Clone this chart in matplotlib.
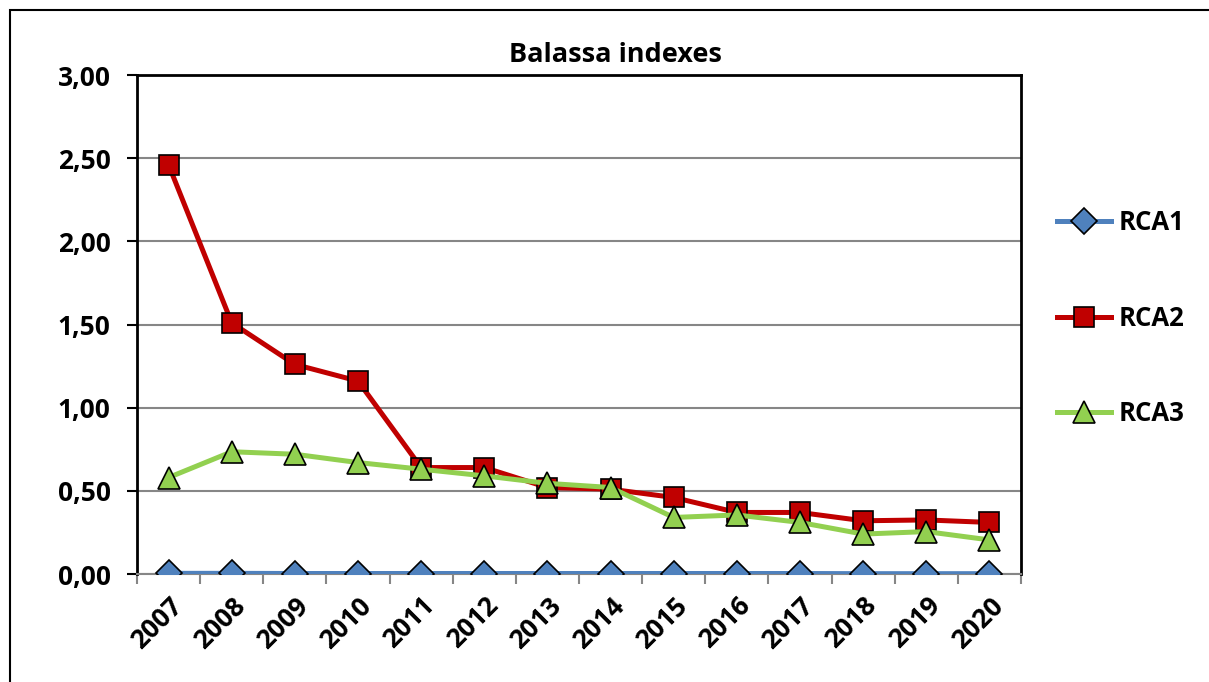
"""Balassa indexes line chart (Excel-style)."""

import matplotlib.pyplot as plt
from matplotlib.patches import Rectangle
from matplotlib.ticker import FuncFormatter

years = ["2007", "2008", "2009", "2010", "2011", "2012", "2013",
         "2014", "2015", "2016", "2017", "2018", "2019", "2020"]
rca1 = [0.004, 0.004, 0.003, 0.003, 0.003, 0.003, 0.003,
        0.003, 0.003, 0.003, 0.003, 0.002, 0.002, 0.002]
rca2 = [2.46, 1.51, 1.26, 1.16, 0.64, 0.64, 0.52,
        0.51, 0.46, 0.37, 0.37, 0.32, 0.325, 0.31]
rca3 = [0.58, 0.735, 0.72, 0.67, 0.63, 0.59, 0.545,
        0.52, 0.34, 0.355, 0.31, 0.24, 0.255, 0.205]

FONT = "Open Sans"
TICK_SIZE = 19
W, H = 1209, 682

fig = plt.figure(figsize=(W / 100, H / 100), dpi=100)
fig.patches.append(
    Rectangle((10 / W, -0.05), 1.2, 1 - 10 / H + 0.05, transform=fig.transFigure,
              fill=False, edgecolor="black", linewidth=1.5)
)
ax = fig.add_axes([137 / W, 1 - 574 / H, (1021 - 137) / W, (574 - 75) / H])

x = range(len(years))
ax.plot(x, rca1, color="#4F81BD", linewidth=3.6, marker="D", markersize=13,
        markerfacecolor="#4F81BD", markeredgecolor="black", markeredgewidth=1.2,
        label="RCA1", zorder=3)
ax.plot(x, rca2, color="#C00000", linewidth=3.6, marker="s", markersize=14,
        markerfacecolor="#C00000", markeredgecolor="black", markeredgewidth=1.2,
        label="RCA2", zorder=4)
ax.plot(x, rca3, color="#92D050", linewidth=3.6, marker="^", markersize=16,
        markerfacecolor="#92D050", markeredgecolor="black", markeredgewidth=1.2,
        label="RCA3", zorder=5)

ax.set_xlim(-0.5, len(years) - 0.5)
ax.set_ylim(0, 3)
ax.set_yticks([0, 0.5, 1, 1.5, 2, 2.5, 3])
ax.yaxis.set_major_formatter(FuncFormatter(lambda v, _: f"{v:.2f}".replace(".", ",")))
ax.grid(True, axis="y", color="#868686", linewidth=1.5, zorder=0)
ax.set_axisbelow(True)

ax.set_xticks(list(x))
ax.set_xticklabels(years, rotation=45, ha="right", rotation_mode="anchor")
ax.set_xticks([i - 0.5 for i in range(len(years) + 1)], minor=True)
ax.tick_params(axis="x", which="major", length=0, pad=13)
ax.tick_params(axis="x", which="minor", length=7, width=1.5, color="#868686")
ax.tick_params(axis="y", length=7, width=1.5, color="black", pad=12)

for lbl in ax.get_xticklabels() + ax.get_yticklabels():
    lbl.set_fontfamily(FONT)
    lbl.set_fontweight("bold")
    lbl.set_fontsize(TICK_SIZE)

for side in ("left", "top", "right"):
    ax.spines[side].set_color("black")
    ax.spines[side].set_linewidth(2)
ax.spines["bottom"].set_color("#868686")
ax.spines["bottom"].set_linewidth(1.5)

fig.text(615 / W, 1 - 55 / H, "Balassa indexes", ha="center", va="center",
         fontfamily=FONT, fontweight="bold", fontsize=19.5)

ax.legend(loc="center left", bbox_to_anchor=(1034 / W, 1 - 318 / H),
          bbox_transform=fig.transFigure, frameon=False, handlelength=2.1,
          handletextpad=0.3, labelspacing=2.65,
          prop={"family": FONT, "weight": "bold", "size": 18.5})

fig.savefig("out.png", dpi=100)
